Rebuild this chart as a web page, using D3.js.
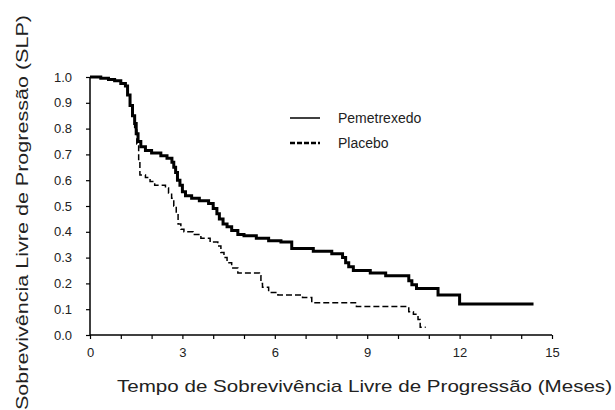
<!DOCTYPE html>
<html>
<head>
<meta charset="utf-8">
<script src="https://cdn.jsdelivr.net/npm/d3@7"></script>
<style>
  body { margin: 0; background: #fff; }
  text { font-family: "Liberation Sans", Arial, sans-serif; fill: #222; }
</style>
</head>
<body>
<svg id="chart" width="615" height="410"></svg>
<script>
// Kaplan-Meier steps: time (months) -> survival
const pemTime = [0, 0.35, 0.6, 0.8, 1.0, 1.15, 1.22, 1.3, 1.38, 1.45, 1.5, 1.56, 1.65, 1.8, 2.0, 2.3, 2.5,
  2.66, 2.72, 2.78, 2.84, 2.92, 3.0, 3.1, 3.3, 3.55, 3.85, 4.0, 4.12, 4.2, 4.32, 4.45, 4.6, 4.8, 5.0,
  5.4, 5.8, 6.2, 6.55, 7.25, 7.85, 8.2, 8.3, 8.4, 8.55, 9.1, 9.6, 10.35, 10.45, 10.6, 11.3, 12.0, 14.4];
const pemSurv = [1.0, 0.995, 0.99, 0.985, 0.975, 0.965, 0.93, 0.89, 0.85, 0.82, 0.78, 0.75, 0.73, 0.715, 0.705, 0.695, 0.685,
  0.67, 0.65, 0.63, 0.60, 0.58, 0.555, 0.54, 0.53, 0.52, 0.51, 0.49, 0.47, 0.45, 0.43, 0.42, 0.405, 0.39, 0.385,
  0.375, 0.365, 0.36, 0.335, 0.325, 0.315, 0.30, 0.28, 0.265, 0.25, 0.24, 0.23, 0.21, 0.195, 0.18, 0.155, 0.12, 0.12];

const plaTime = [0, 0.35, 0.6, 0.8, 1.0, 1.15, 1.22, 1.3, 1.38, 1.45, 1.52, 1.58, 1.62, 1.8, 1.95, 2.1, 2.45,
  2.55, 2.65, 2.72, 2.8, 2.86, 2.95, 3.05, 3.35, 3.6, 3.9, 4.15, 4.25, 4.35, 4.45, 4.6, 4.8, 5.5, 5.55,
  5.6, 5.8, 6.1, 6.9, 7.2, 8.65, 10.35, 10.5, 10.65, 10.72, 10.9];
const plaSurv = [1.0, 0.995, 0.99, 0.985, 0.975, 0.965, 0.93, 0.89, 0.85, 0.80, 0.74, 0.68, 0.62, 0.61, 0.595, 0.58, 0.57,
  0.55, 0.53, 0.50, 0.47, 0.43, 0.41, 0.40, 0.39, 0.375, 0.36, 0.345, 0.32, 0.30, 0.28, 0.26, 0.24, 0.23, 0.20,
  0.185, 0.165, 0.155, 0.145, 0.125, 0.11, 0.09, 0.08, 0.06, 0.03, 0.03];

const xTicks = [0, 3, 6, 9, 12, 15];
const yTicks = [0, 0.1, 0.2, 0.3, 0.4, 0.5, 0.6, 0.7, 0.8, 0.9, 1.0];

const pem = pemTime.map((t, i) => ({ t, s: pemSurv[i] }));
const pla = plaTime.map((t, i) => ({ t, s: plaSurv[i] }));

const svg = d3.select('svg#chart');

const xScale = d3.scaleLinear().domain([0, 15]).range([90, 552]);
const yScale = d3.scaleLinear().domain([0, 1]).range([335, 77]);

// x axis: small tick every month, labels every 3
const xAxis = d3.axisBottom(xScale)
  .tickValues(d3.range(0, 16))
  .tickSize(4)
  .tickFormat((d) => (xTicks.includes(d) ? d : ''));
const gx = svg.append('g')
  .attr('transform', 'translate(0,335)')
  .call(xAxis);
gx.select('.domain').attr('stroke-width', 1.5).attr('d', 'M90,0H552');
gx.selectAll('.tick line').attr('stroke-width', 1.2);
gx.selectAll('.tick text')
  .attr('y', 13)
  .style('font-size', '13px')
  .style('font-family', '"Liberation Sans", Arial, sans-serif')
  .attr('fill', '#222');

// y axis
const yAxis = d3.axisLeft(yScale)
  .tickValues(yTicks)
  .tickSize(4)
  .tickFormat(d3.format('.1f'));
const gy = svg.append('g')
  .attr('transform', 'translate(90,0)')
  .call(yAxis);
gy.select('.domain').attr('stroke-width', 1.5).attr('d', 'M0,335V77');
gy.selectAll('.tick line').attr('stroke-width', 1.2);
gy.selectAll('.tick text')
  .attr('x', -18)
  .style('font-size', '13px')
  .style('font-family', '"Liberation Sans", Arial, sans-serif')
  .attr('fill', '#222');

// survival curves
const line = d3.line()
  .x((d) => xScale(d.t))
  .y((d) => yScale(d.s))
  .curve(d3.curveStepAfter);

svg.append('path')
  .attr('d', line(pla))
  .attr('fill', 'none')
  .attr('stroke', '#000')
  .attr('stroke-width', 1.5)
  .attr('stroke-dasharray', '6,3');

svg.append('path')
  .attr('d', line(pem))
  .attr('fill', 'none')
  .attr('stroke', '#000')
  .attr('stroke-width', 3);

// legend
const legend = [
  { name: 'Pemetrexedo', dash: null, w: 1.5 },
  { name: 'Placebo', dash: '5,2', w: 2.5 },
];
legend.forEach((d, i) => {
  const y = 118 + i * 25;
  svg.append('line')
    .attr('x1', 290).attr('x2', 320)
    .attr('y1', y).attr('y2', y)
    .attr('stroke', '#000')
    .attr('stroke-width', d.w)
    .attr('stroke-dasharray', d.dash);
  svg.append('text')
    .attr('x', 338).attr('y', y + 5)
    .style('font-size', '14px')
    .text(d.name);
});

// axis titles
svg.append('text')
  .attr('x', 117).attr('y', 392)
  .attr('textLength', 495)
  .attr('lengthAdjust', 'spacingAndGlyphs')
  .style('font-size', '17px')
  .text('Tempo de Sobrevivência Livre de Progressão (Meses)');

svg.append('text')
  .attr('transform', 'translate(28,410) rotate(-90)')
  .attr('textLength', 395)
  .attr('lengthAdjust', 'spacingAndGlyphs')
  .style('font-size', '17px')
  .text('Sobrevivência Livre de Progressão (SLP)');
</script>
</body>
</html>
